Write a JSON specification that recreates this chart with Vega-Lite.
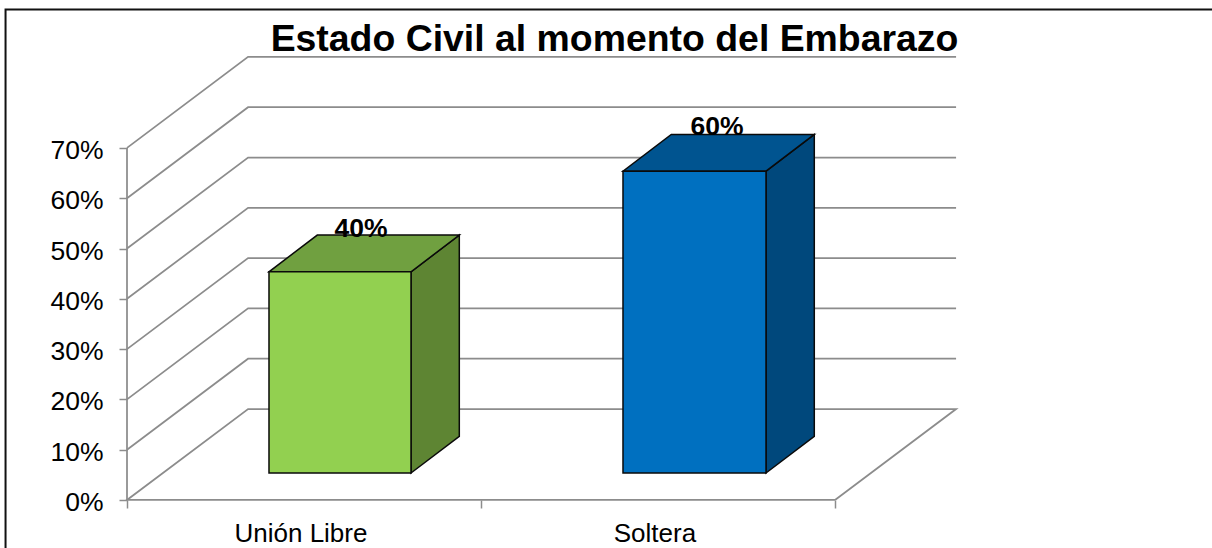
{"$schema":"https://vega.github.io/schema/vega-lite/v6.json","width":1212,"height":548,"padding":0,"autosize":{"type":"none"},"background":"white","view":{"stroke":null},
"title":{"text":"Estado Civil al momento del Embarazo","font":"Liberation Sans","fontWeight":"bold","fontSize":37.4,"color":"black","anchor":"middle","dx":8.5,"offset":-58},
"datasets":{
"marco":[{"x":-0.3431,"y":-9.54,"orden":1},{"x":-0.3431,"y":97.52,"orden":2},{"x":3.065,"y":97.52,"orden":3}],
"reticula":[
{"linea":"piso","orden":1,"x":2,"y":0},{"linea":"piso","orden":2,"x":2.342,"y":18.09},{"linea":"piso","orden":3,"x":0.342,"y":18.09},{"linea":"piso","orden":4,"x":0,"y":0},{"linea":"piso","orden":5,"x":2,"y":0},
{"linea":"eje","orden":1,"x":0,"y":0},{"linea":"eje","orden":2,"x":0,"y":70},
{"linea":"10","orden":1,"x":0,"y":10},{"linea":"10","orden":2,"x":0.342,"y":28.09},{"linea":"10","orden":3,"x":2.342,"y":28.09},
{"linea":"20","orden":1,"x":0,"y":20},{"linea":"20","orden":2,"x":0.342,"y":38.09},{"linea":"20","orden":3,"x":2.342,"y":38.09},
{"linea":"30","orden":1,"x":0,"y":30},{"linea":"30","orden":2,"x":0.342,"y":48.09},{"linea":"30","orden":3,"x":2.342,"y":48.09},
{"linea":"40","orden":1,"x":0,"y":40},{"linea":"40","orden":2,"x":0.342,"y":58.09},{"linea":"40","orden":3,"x":2.342,"y":58.09},
{"linea":"50","orden":1,"x":0,"y":50},{"linea":"50","orden":2,"x":0.342,"y":68.09},{"linea":"50","orden":3,"x":2.342,"y":68.09},
{"linea":"60","orden":1,"x":0,"y":60},{"linea":"60","orden":2,"x":0.342,"y":78.09},{"linea":"60","orden":3,"x":2.342,"y":78.09},
{"linea":"70","orden":1,"x":0,"y":70},{"linea":"70","orden":2,"x":0.342,"y":88.09},{"linea":"70","orden":3,"x":2.342,"y":88.09}],
"caras":[
{"cara":"Unión Libre lado","x":0.8023,"y":5.37,"y2":45.37},{"cara":"Unión Libre lado","x":0.9387,"y":12.67,"y2":52.67},
{"cara":"Unión Libre tapa","x":0.4011,"y":45.37,"y2":45.37},{"cara":"Unión Libre tapa","x":0.5375,"y":45.37,"y2":52.67},{"cara":"Unión Libre tapa","x":0.8023,"y":45.37,"y2":52.67},{"cara":"Unión Libre tapa","x":0.9387,"y":52.67,"y2":52.67},
{"cara":"Soltera lado","x":1.8051,"y":5.37,"y2":65.37},{"cara":"Soltera lado","x":1.9415,"y":12.67,"y2":72.67},
{"cara":"Soltera tapa","x":1.4011,"y":65.37,"y2":65.37},{"cara":"Soltera tapa","x":1.5375,"y":65.37,"y2":72.67},{"cara":"Soltera tapa","x":1.8051,"y":65.37,"y2":72.67},{"cara":"Soltera tapa","x":1.9415,"y":72.67,"y2":72.67}],
"frentes":[
{"cara":"Unión Libre frente","x":0.4011,"x2":0.8023,"y":5.37,"y2":45.37},
{"cara":"Soltera frente","x":1.4011,"x2":1.8051,"y":5.37,"y2":65.37}],
"etiquetas":[{"x":0.661,"y":53.9,"texto":"40%"},{"x":1.667,"y":74.16,"texto":"60%"}]
},
"encoding":{
"x":{"field":"x","type":"quantitative","title":null,"scale":{"domain":[-0.35876,3.06497],"nice":false,"zero":false},"axis":{"values":[0,0.49,1,1.49,2],"offset":-48,"orient":"bottom","domain":false,"grid":false,"tickSize":8,"tickWidth":1.5,"tickColor":"#8c8c8c","tickOpacity":{"condition":{"test":"datum.value==0.49||datum.value==1.49","value":0},"value":1},"labelExpr":"datum.value==0.49?'Unión Libre':datum.value==1.49?'Soltera':''","labelFont":"Liberation Sans","labelFontSize":26,"labelColor":"black","labelPadding":12,"labelFlush":false,"labelOverlap":false}},
"y":{"field":"y","type":"quantitative","title":null,"scale":{"domain":[-9.543,99.404],"nice":false,"zero":false},"axis":{"values":[0,10,20,30,40,50,60,70],"offset":-127,"orient":"left","domain":false,"grid":false,"tickSize":8,"tickWidth":1.5,"tickColor":"#8c8c8c","labelExpr":"datum.value+'%'","labelFont":"Liberation Sans","labelFontSize":26.5,"labelColor":"black","labelPadding":16,"labelOffset":2.5,"labelOverlap":false}}
},
"layer":[
{"data":{"name":"marco"},"mark":{"type":"line","stroke":"#111111","strokeWidth":2,"clip":false},"encoding":{"order":{"field":"orden"}}},
{"data":{"name":"reticula"},"mark":{"type":"line","stroke":"#8c8c8c","strokeWidth":1.75},
"encoding":{"detail":{"field":"linea"},"order":{"field":"orden"}}},
{"data":{"name":"caras"},"mark":{"type":"area","stroke":"#0a0a0a","strokeWidth":1.5,"interpolate":"linear"},
"encoding":{"y2":{"field":"y2"},"color":{"field":"cara","type":"nominal","legend":null,"scale":{"domain":["Unión Libre frente","Unión Libre tapa","Unión Libre lado","Soltera frente","Soltera tapa","Soltera lado"],"range":["#92D050","#70A040","#5E8533","#0070C0","#005490","#00487C"]}}}},
{"data":{"name":"frentes"},"mark":{"type":"rect","stroke":"#0a0a0a","strokeWidth":1.5},
"encoding":{"x2":{"field":"x2"},"y2":{"field":"y2"},"color":{"field":"cara","type":"nominal","legend":null}}},
{"data":{"name":"etiquetas"},"mark":{"type":"text","font":"Liberation Sans","fontWeight":"bold","fontSize":26.5,"color":"black","align":"center","baseline":"middle"},"encoding":{"text":{"field":"texto"}}}
]}
